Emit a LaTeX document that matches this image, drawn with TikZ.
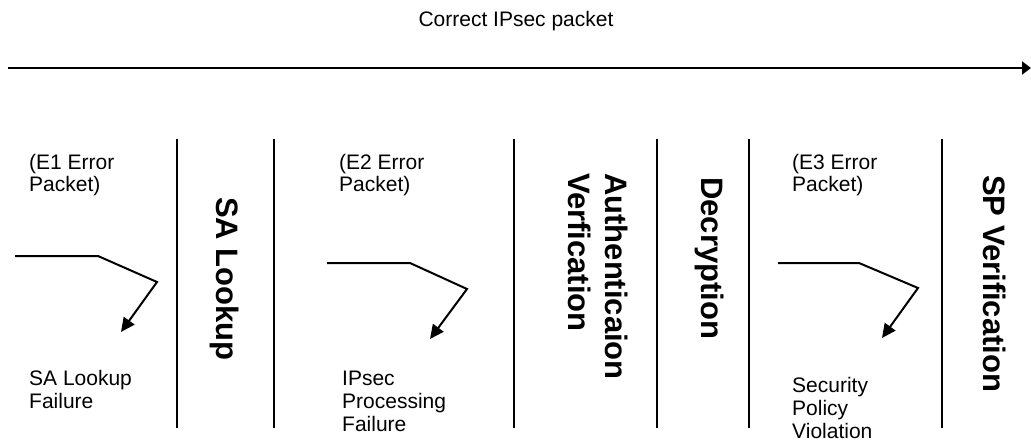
\documentclass[tikz,border=0pt]{standalone}
\usepackage{fontspec}
\setmainfont{Liberation Sans}
\usetikzlibrary{arrows.meta}

\begin{document}
\begin{tikzpicture}[x=1pt,y=-1pt,
  plain/.style={font=\fontsize{21}{23}\selectfont, inner sep=0pt, align=left, anchor=base west},
  stage/.style={font=\fontsize{31}{37}\selectfont\bfseries, inner sep=0pt, align=left, rotate=-90, anchor=west},
  divider/.style={line width=1.6pt},
  flow/.style={line width=2.6pt, -{Triangle[length=9pt,width=13pt]}},
  errpath/.style={line width=2pt, -{Triangle[length=14pt,width=13pt]}}
]
\useasboundingbox (0,0) rectangle (1031,441);

% overall packet flow
\node[font=\fontsize{21}{23}\selectfont, inner sep=0pt, anchor=base] (title) at (516,27) {Correct IPsec packet};
\coordinate (flowstart) at (8,68);
\coordinate (flowend) at (1031,68);
\draw[flow] (flowstart) -- (flowend);

% stage dividers
\foreach \n/\x in {d1/177, d2/274, d3/514, d4/657, d5/749, d6/942} {
  \coordinate (\n top) at (\x,139);
  \coordinate (\n bot) at (\x,428);
  \draw[divider] (\n top) -- (\n bot);
}

% processing stages
\node[stage] (salookup) at (225,197) {SA Lookup};
\node[stage] (auth) at (598,173) {Authenticaion\\Verfication};
\node[stage] (decrypt) at (710,177) {Decryption};
\node[stage] (spverif) at (995,175) {SP Verification};

% error packets (anchored on the last line's baseline)
\node[plain] (e1) at (29,192) {(E1 Error\\Packet)};
\node[plain] (e2) at (339,192) {(E2 Error\\Packet)};
\node[plain] (e3) at (792,192) {(E3 Error\\Packet)};

% failure outcomes
\node[plain] (f1) at (29,408) {SA Lookup\\Failure};
\node[plain] (f2) at (342,431) {IPsec\\Processing\\Failure};
\node[plain] (f3) at (792,438) {Security\\Policy\\Violation};

% error paths
\coordinate (p1a) at (15,256);  \coordinate (p1b) at (98,256);
\coordinate (p1c) at (157,282); \coordinate (p1d) at (121,332);
\draw[errpath] (p1a) -- (p1b) -- (p1c) -- (p1d);

\coordinate (p2a) at (327,263); \coordinate (p2b) at (410,263);
\coordinate (p2c) at (467,289); \coordinate (p2d) at (430,339);
\draw[errpath] (p2a) -- (p2b) -- (p2c) -- (p2d);

\coordinate (p3a) at (778,263); \coordinate (p3b) at (859,263);
\coordinate (p3c) at (918,288); \coordinate (p3d) at (882,338);
\draw[errpath] (p3a) -- (p3b) -- (p3c) -- (p3d);
\end{tikzpicture}
\end{document}
